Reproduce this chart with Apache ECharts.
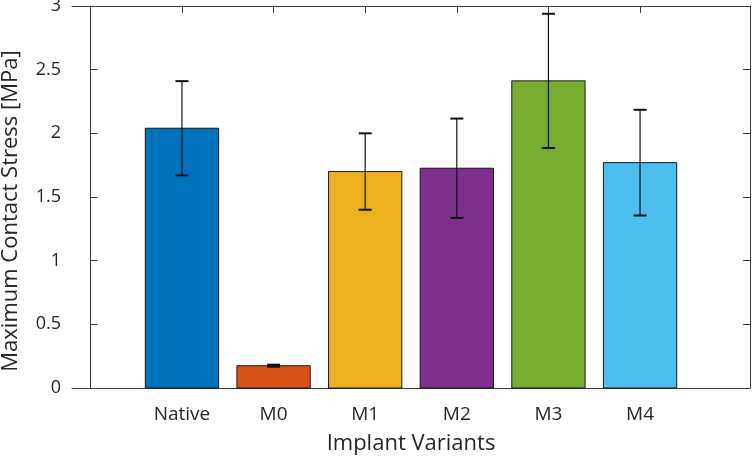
<!DOCTYPE html>
<html>
<head>
<meta charset="utf-8">
<script src="https://cdn.jsdelivr.net/npm/echarts@6/dist/echarts.min.js"></script>
<style>html,body{margin:0;padding:0;background:#fff}#c{width:753px;height:458px}</style>
</head>
<body>
<div id="c"></div>
<script>
const categories = ['Native', 'M0', 'M1', 'M2', 'M3', 'M4'];
const means = [2.04, 0.175, 1.70, 1.726, 2.412, 1.770];
const errors = [0.37, 0.008, 0.30, 0.39, 0.527, 0.415];
const colors = ['#0072BD', '#D95319', '#EDB120', '#7E2F8E', '#77AC30', '#4DBEEE'];
const yTicks = [0, 0.5, 1, 1.5, 2, 2.5, 3];

const positions = categories.map((c, i) => i + 1);
const barData = means.map((m, i) => [positions[i], m, i]);
const errData = means.map((m, i) => [positions[i], m - errors[i], m + errors[i]]);

const font = '"Open Sans", "Noto Sans", sans-serif';
const axisColor = '#3a3a3a';
const textColor = '#262626';

const chart = echarts.init(document.getElementById('c'), null, {renderer: 'canvas'});
chart.setOption({
  animation: false,
  backgroundColor: '#fff',
  grid: {left: 72, right: 3, top: 6, bottom: 70, containLabel: false, outerBoundsMode: 'none'},
  xAxis: [{
    type: 'value', min: -0.2, max: 7.2, position: 'bottom',
    name: 'Implant Variants', nameLocation: 'middle', nameGap: 45,
    nameTextStyle: {fontFamily: font, fontSize: 22, color: textColor},
    axisLine: {show: true, lineStyle: {color: axisColor, width: 1}},
    axisTick: {show: true, inside: true, length: 7, customValues: positions, lineStyle: {color: axisColor}},
    axisLabel: {show: true, customValues: positions, margin: 17, fontFamily: font, fontSize: 19, color: textColor,
      formatter: v => categories[Math.round(v) - 1] || ''},
    splitLine: {show: false}
  }, {
    type: 'value', min: -0.2, max: 7.2, position: 'top',
    axisLine: {show: true, onZero: false, lineStyle: {color: axisColor, width: 1}},
    axisTick: {show: true, inside: true, length: 7, customValues: positions, lineStyle: {color: axisColor}},
    axisLabel: {show: false},
    splitLine: {show: false}
  }],
  yAxis: [{
    type: 'value', min: 0, max: 3, interval: 0.5, position: 'left',
    name: 'Maximum Contact Stress [MPa]', nameLocation: 'middle', nameGap: 50,
    nameTextStyle: {fontFamily: font, fontSize: 22, color: textColor, padding: [0, 28, 0, 0]},
    axisLine: {show: true, lineStyle: {color: axisColor, width: 1}},
    axisTick: {show: true, inside: true, length: 7, lineStyle: {color: axisColor}},
    axisLabel: {show: true, margin: 11, fontFamily: font, fontSize: 18, color: textColor,
      customValues: yTicks, formatter: v => String(v)},
    splitLine: {show: false}
  }, {
    type: 'value', min: 0, max: 3, interval: 0.5, position: 'right',
    axisLine: {show: true, onZero: false, lineStyle: {color: axisColor, width: 1}},
    axisTick: {show: true, inside: true, length: 7, lineStyle: {color: axisColor}},
    axisLabel: {show: false},
    splitLine: {show: false}
  }],
  series: [{
    type: 'custom',
    xAxisIndex: 0, yAxisIndex: 0,
    data: barData,
    encode: {x: 0, y: 1},
    renderItem: function (params, api) {
      const x = api.value(0), y = api.value(1), idx = api.value(2);
      const p0 = api.coord([x - 0.4, y]);
      const p1 = api.coord([x + 0.4, 0]);
      return {
        type: 'rect',
        shape: {x: p0[0], y: p0[1], width: p1[0] - p0[0], height: p1[1] - p0[1]},
        style: {fill: colors[idx], stroke: '#1a1a1a', lineWidth: 1}
      };
    },
    z: 2
  }, {
    type: 'custom',
    xAxisIndex: 0, yAxisIndex: 0,
    data: errData,
    encode: {x: 0, y: [1, 2]},
    renderItem: function (params, api) {
      const x = api.value(0);
      const lo = api.coord([x, api.value(1)]);
      const hi = api.coord([x, api.value(2)]);
      const hw = 6.5;
      const st = {stroke: '#111', lineWidth: 1.2, fill: null};
      return {
        type: 'group',
        children: [
          {type: 'line', shape: {x1: lo[0], y1: lo[1], x2: hi[0], y2: hi[1]}, style: st},
          {type: 'line', shape: {x1: lo[0] - hw, y1: lo[1], x2: lo[0] + hw, y2: lo[1]}, style: {stroke: '#111', lineWidth: 2}},
          {type: 'line', shape: {x1: hi[0] - hw, y1: hi[1], x2: hi[0] + hw, y2: hi[1]}, style: {stroke: '#111', lineWidth: 2}}
        ]
      };
    },
    z: 3
  }]
});
</script>
</body>
</html>
